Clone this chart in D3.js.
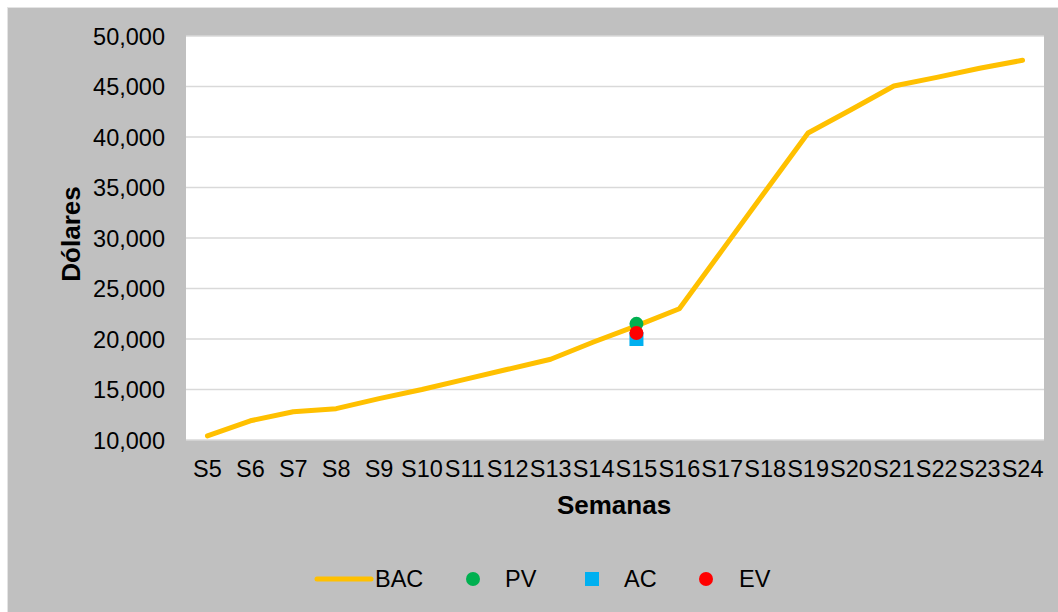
<!DOCTYPE html>
<html lang="es">
<head>
  <meta charset="UTF-8" />
  <title>BAC / PV / AC / EV</title>
  <style>
    body { margin: 0; background: #fff; font-family: 'Liberation Sans', Arial, sans-serif; }
    .grid line { stroke: #d9d9d9; stroke-width: 1.5px; }
    .tick text { fill: #000; }
  </style>
</head>
<body>
  <svg id="chart" width="1058" height="612"></svg>

  <script src="https://d3js.org/d3.v7.min.js"></script>
  <script>
    const semanas = ["S5","S6","S7","S8","S9","S10","S11","S12","S13","S14",
                     "S15","S16","S17","S18","S19","S20","S21","S22","S23","S24"];
    const bac = [10400, 11900, 12800, 13100, 14100, 15000, 16000, 17000, 18000, 19700,
                 21300, 23000, 28800, 34600, 40400, 42700, 45050, 45900, 46800, 47600];
    const pv = [{ semana: "S15", valor: 21500 }];
    const ac = [{ semana: "S15", valor: 20000 }];
    const ev = [{ semana: "S15", valor: 20600 }];
    const yTicks = [10000, 15000, 20000, 25000, 30000, 35000, 40000, 45000, 50000];

    const svg = d3.select("#chart");
    const plot = { left: 186, top: 36, right: 1044, bottom: 440 };

    // fondo gris del gráfico
    svg.append("rect").attr("x", 7).attr("y", 7).attr("width", 1060).attr("height", 620)
      .attr("fill", "#e4e4e4");
    svg.append("rect").attr("x", 8).attr("y", 8).attr("width", 1060).attr("height", 620)
      .attr("fill", "#c0c0c0");
    svg.append("rect")
      .attr("x", plot.left).attr("y", plot.top)
      .attr("width", plot.right - plot.left).attr("height", plot.bottom - plot.top)
      .attr("fill", "#fff");

    const x = d3.scaleBand().domain(semanas).range([plot.left, plot.right]);
    const y = d3.scaleLinear().domain([10000, 50000]).range([plot.bottom, plot.top]);
    const cx = s => x(s) + x.bandwidth() / 2;

    svg.append("g").attr("class", "grid")
      .selectAll("line").data(yTicks).join("line")
      .attr("x1", plot.left).attr("x2", plot.right)
      .attr("y1", d => y(d)).attr("y2", d => y(d));

    const yAxis = svg.append("g")
      .attr("transform", `translate(${plot.left},0)`)
      .call(d3.axisLeft(y).tickValues(yTicks).tickFormat(d3.format(",")).tickSize(0).tickPadding(21));
    yAxis.select(".domain").remove();
    yAxis.selectAll("text").style("font-size", "23.5px").attr("dy", "0.36em");

    const xAxis = svg.append("g")
      .attr("transform", `translate(0,${plot.bottom})`)
      .call(d3.axisBottom(x).tickSize(0).tickPadding(20));
    xAxis.select(".domain").remove();
    xAxis.selectAll("text").style("font-size", "23.5px").attr("dy", "0.71em");

    // títulos de ejes
    svg.append("text")
      .attr("x", 614).attr("y", 514)
      .attr("text-anchor", "middle")
      .style("font-size", "26px").style("font-weight", "bold")
      .text("Semanas");
    svg.append("text")
      .attr("transform", "translate(80,234) rotate(-90)")
      .attr("text-anchor", "middle")
      .style("font-size", "26px").style("font-weight", "bold")
      .text("Dólares");

    // línea BAC
    const line = d3.line().x((d, i) => cx(semanas[i])).y(d => y(d));
    svg.append("path")
      .attr("d", line(bac))
      .attr("fill", "none").attr("stroke", "#ffc000")
      .attr("stroke-width", 5).attr("stroke-linejoin", "round").attr("stroke-linecap", "round");

    // marcadores
    svg.selectAll(".pv").data(pv).join("circle").attr("class", "pv")
      .attr("cx", d => cx(d.semana)).attr("cy", d => y(d.valor)).attr("r", 7)
      .attr("fill", "#00b050");
    svg.selectAll(".ac").data(ac).join("rect").attr("class", "ac")
      .attr("x", d => cx(d.semana) - 7).attr("y", d => y(d.valor) - 7)
      .attr("width", 14).attr("height", 14)
      .attr("fill", "#00b0f0");
    svg.selectAll(".ev").data(ev).join("circle").attr("class", "ev")
      .attr("cx", d => cx(d.semana)).attr("cy", d => y(d.valor)).attr("r", 7)
      .attr("fill", "#ff0000");

    // leyenda
    const ly = 579;
    const legend = svg.append("g").style("font-size", "23.5px");
    legend.append("line").attr("x1", 317).attr("x2", 371).attr("y1", ly).attr("y2", ly)
      .attr("stroke", "#ffc000").attr("stroke-width", 5).attr("stroke-linecap", "round");
    legend.append("text").attr("x", 375).attr("y", ly).attr("dy", "0.36em").text("BAC");
    legend.append("circle").attr("cx", 473).attr("cy", ly).attr("r", 7).attr("fill", "#00b050");
    legend.append("text").attr("x", 505).attr("y", ly).attr("dy", "0.36em").text("PV");
    legend.append("rect").attr("x", 585).attr("y", ly - 7).attr("width", 14).attr("height", 14)
      .attr("fill", "#00b0f0");
    legend.append("text").attr("x", 624).attr("y", ly).attr("dy", "0.36em").text("AC");
    legend.append("circle").attr("cx", 706).attr("cy", ly).attr("r", 7).attr("fill", "#ff0000");
    legend.append("text").attr("x", 739).attr("y", ly).attr("dy", "0.36em").text("EV");
  </script>
</body>
</html>
